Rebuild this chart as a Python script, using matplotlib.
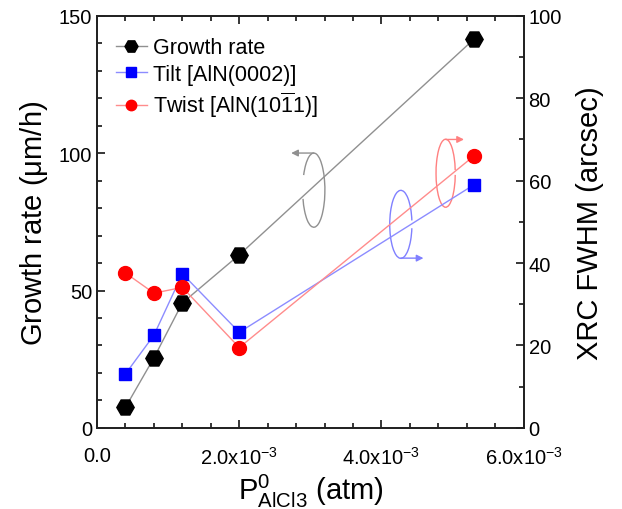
import matplotlib
matplotlib.use('Agg')
import matplotlib.pyplot as plt
from matplotlib.patches import Arc
from matplotlib.ticker import MultipleLocator

plt.rcParams['font.family'] = ['Liberation Sans', 'DejaVu Sans']
plt.rcParams['mathtext.fontset'] = 'custom'
plt.rcParams['mathtext.rm'] = 'Liberation Sans'
plt.rcParams['mathtext.it'] = 'Liberation Sans:italic'

# partial pressure of AlCl3 (atm)
p_alcl3 = [0.4e-3, 0.8e-3, 1.2e-3, 2.0e-3, 5.3e-3]
# growth rate (um/h), left axis
growth = [7.5, 25.5, 45.5, 63, 141.5]
# XRC FWHM (arcsec), right axis
tilt = [13.1, 22.5, 37.4, 23.2, 59]
twist = [37.6, 32.7, 34.1, 19.5, 66]

xtick_pos = [0, 2e-3, 4e-3, 6e-3]
xtick_lab = ['0.0', r'2.0x10$^{-3}$', r'4.0x10$^{-3}$', r'6.0x10$^{-3}$']

fig = plt.figure(figsize=(6.22, 5.10), dpi=100)
fig.subplots_adjust(left=0.156, right=0.842, bottom=0.159, top=0.967)
ax = fig.add_subplot(111)
ax2 = ax.twinx()

l1, = ax.plot(p_alcl3, growth, color='#909090', lw=1, marker='H', ms=12.5,
              mfc='k', mec='k', label='Growth rate')
l2, = ax2.plot(p_alcl3, tilt, color='#8c8cff', lw=1, marker='s', ms=9,
               mfc='#0000ff', mec='#0000ff', label='Tilt [AlN(0002)]')
l3, = ax2.plot(p_alcl3, twist, color='#ff8c8c', lw=1, marker='o', ms=10,
               mfc='#ff0000', mec='#ff0000',
               label=r'Twist [AlN(10$\overline{1}$1)]')

ax.set_xlim(0, 6e-3)
ax.set_ylim(0, 150)
ax2.set_ylim(0, 100)
ax.set_xticks(xtick_pos)
ax.set_xticklabels(xtick_lab)
ax.xaxis.set_minor_locator(MultipleLocator(0.4e-3))
ax.yaxis.set_major_locator(MultipleLocator(50))
ax.yaxis.set_minor_locator(MultipleLocator(10))
ax2.yaxis.set_major_locator(MultipleLocator(20))
ax2.yaxis.set_minor_locator(MultipleLocator(10))

ax.tick_params(which='both', direction='in', top=True, right=False,
               labelsize=14.5, width=1.1)
ax.tick_params(which='major', length=6)
ax.tick_params(which='minor', length=3.5)
ax.tick_params(axis='x', pad=13)
ax2.tick_params(which='both', direction='in', labelsize=14.5, width=1.1)
ax2.tick_params(which='major', length=6)
ax2.tick_params(which='minor', length=3.5)
for a in (ax, ax2):
    for s in a.spines.values():
        s.set_linewidth(1.3)
        s.set_color('#222222')

ax.set_xlabel(r'P$^{0}_{\mathrm{AlCl3}}$ (atm)', fontsize=21, labelpad=3)
ax.set_ylabel(r'Growth rate ($\mathrm{\mu}$m/h)', fontsize=21, labelpad=6)
ax2.set_ylabel('XRC FWHM (arcsec)', fontsize=21, labelpad=10)

leg = ax2.legend(handles=[l1, l2, l3], loc='upper left', frameon=False,
                 fontsize=15.5, markerscale=0.75, handlelength=1.4,
                 handletextpad=0.3, labelspacing=0.25,
                 bbox_to_anchor=(0.0, 0.995))

# rotation arrows pointing to the axis of each series
arcs = [
    ((0.508, 0.577), 0.052, 0.18, 220, 483, '#909090', (0.508, 0.667), (0.455, 0.667)),
    ((0.712, 0.494), 0.052, 0.165, 20, 340, '#8080ff', (0.712, 0.412), (0.765, 0.412)),
    ((0.817, 0.618), 0.045, 0.165, 19, 350, '#ff8080', (0.817, 0.70), (0.86, 0.70)),
]
for c, w, h, t1, t2, col, p0, p1 in arcs:
    ax2.add_patch(Arc(c, w, h, theta1=t1, theta2=t2, transform=ax2.transAxes,
                      color=col, lw=1))
    ax2.annotate('', xy=p1, xytext=p0, xycoords='axes fraction',
                 textcoords='axes fraction',
                 arrowprops=dict(arrowstyle='-|>', color=col, lw=1,
                                 mutation_scale=10, shrinkA=0, shrinkB=0))

fig.savefig('out.png', dpi=100)
